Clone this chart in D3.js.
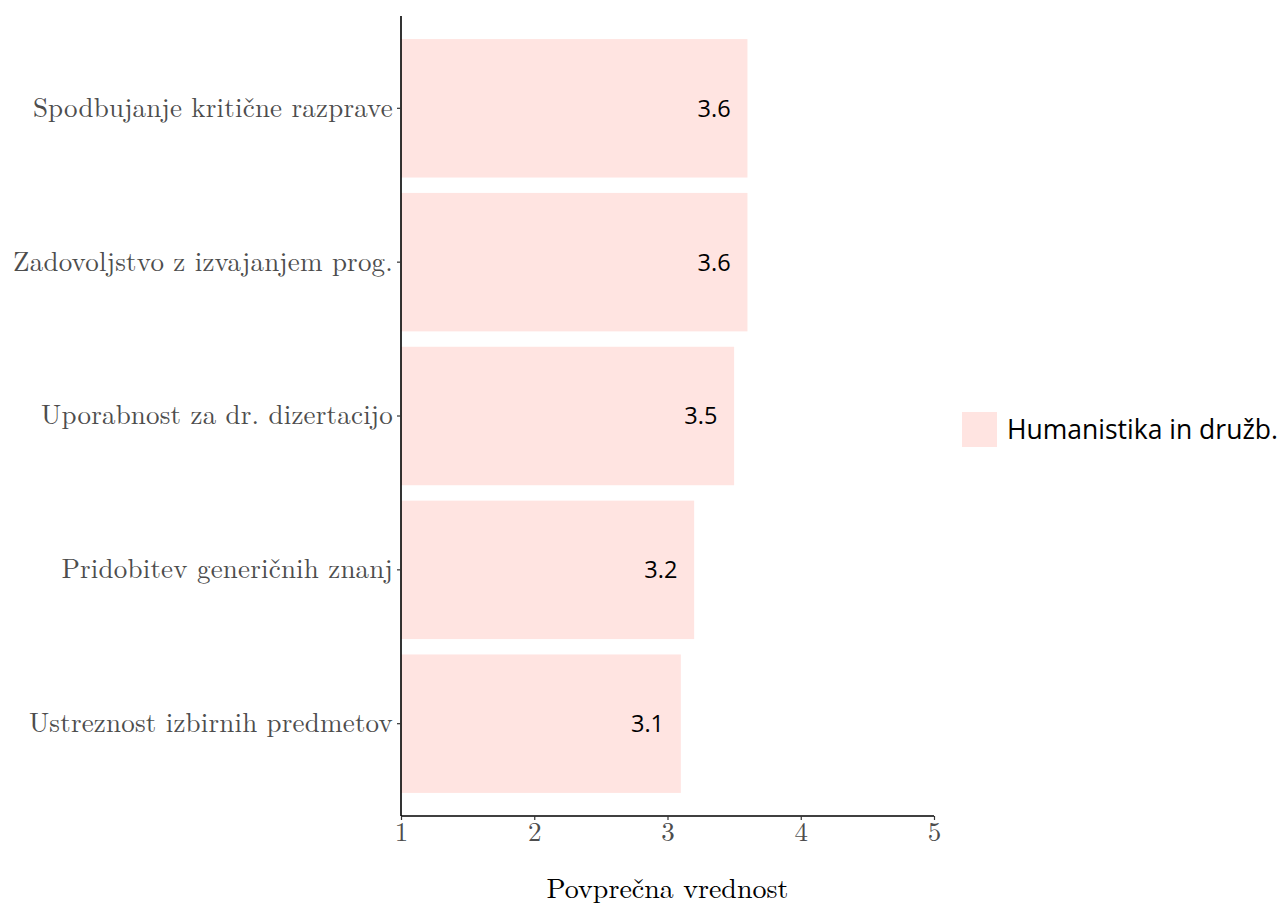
<!DOCTYPE html>
<html>
<head>
<meta charset="utf-8">
<script src="https://cdn.jsdelivr.net/npm/d3@7"></script>
<style>
  body { margin: 0; background: #fff; }
  svg { display: block; }
</style>
</head>
<body>
<svg id="chart" width="1280" height="907"></svg>
<script>
const categories = [
  "Spodbujanje kritične razprave",
  "Zadovoljstvo z izvajanjem prog.",
  "Uporabnost za dr. dizertacijo",
  "Pridobitev generičnih znanj",
  "Ustreznost izbirnih predmetov"
];
const values = [3.6, 3.6, 3.5, 3.2, 3.1];
const xTicks = [1, 2, 3, 4, 5];
const seriesName = "Humanistika in družb.";
const xTitle = "Povprečna vrednost";

const svg = d3.select("#chart");
const pLeft = 401, pRight = 934, pTop = 16, pBottom = 816;
const serif = "'Latin Modern Roman', 'CMU Serif', 'Liberation Serif', 'DejaVu Serif', serif";
const sans = "'Open Sans', 'Noto Sans', sans-serif";
const barColor = "#FFE4E1";

const x = d3.scaleLinear().domain([1, 5]).range([pLeft, pRight]);
const y = d3.scaleBand().domain(categories).range([pTop, pBottom]).paddingInner(0.1).paddingOuter(0.15);

svg.append("g").selectAll("rect").data(values).join("rect")
  .attr("x", x(1))
  .attr("y", (d, i) => y(categories[i]))
  .attr("width", d => x(d) - x(1))
  .attr("height", y.bandwidth())
  .attr("fill", barColor);

svg.append("g").selectAll("text").data(values).join("text")
  .attr("x", d => x(d - 0.25))
  .attr("y", (d, i) => y(categories[i]) + y.bandwidth() / 2)
  .attr("dy", "0.36em")
  .attr("text-anchor", "middle")
  .attr("font-family", sans)
  .attr("font-size", 23.5)
  .attr("fill", "#000")
  .text(d => d.toFixed(1));

const xAxis = svg.append("g").attr("transform", `translate(0,${pBottom})`)
  .call(d3.axisBottom(x).tickValues(xTicks).tickFormat(d3.format("d")).tickSize(4).tickSizeOuter(0).tickPadding(2));
xAxis.select(".domain").attr("stroke", "#000").attr("stroke-width", 1.6).attr("d", `M${pLeft},0H${pRight}`);
xAxis.selectAll(".tick line").attr("stroke", "#333").attr("stroke-width", 1.2);
xAxis.selectAll(".tick text").attr("font-family", serif).attr("font-size", 27).attr("fill", "#4d4d4d");

const yAxis = svg.append("g").attr("transform", `translate(${pLeft},0)`)
  .call(d3.axisLeft(y).tickSize(4).tickSizeOuter(0).tickPadding(4));
yAxis.select(".domain").attr("stroke", "#000").attr("stroke-width", 1.6).attr("d", `M0,${pTop}V${pBottom}`);
yAxis.selectAll(".tick line").attr("stroke", "#333").attr("stroke-width", 1.2);
yAxis.selectAll(".tick text").attr("font-family", serif).attr("font-size", 27)
  .attr("letter-spacing", 0.2).attr("dy", "0.31em").attr("fill", "#4d4d4d");

svg.append("text")
  .attr("x", (pLeft + pRight) / 2)
  .attr("y", 898)
  .attr("text-anchor", "middle")
  .attr("font-family", serif)
  .attr("font-size", 28)
  .attr("fill", "#000")
  .text(xTitle);

const legend = svg.append("g").attr("transform", "translate(962,412)");
legend.append("rect").attr("width", 35).attr("height", 35).attr("fill", barColor);
legend.append("text")
  .attr("x", 45).attr("y", 17.5).attr("dy", "0.35em")
  .attr("font-family", sans).attr("font-size", 26.5).attr("fill", "#000")
  .text(seriesName);
</script>
</body>
</html>
